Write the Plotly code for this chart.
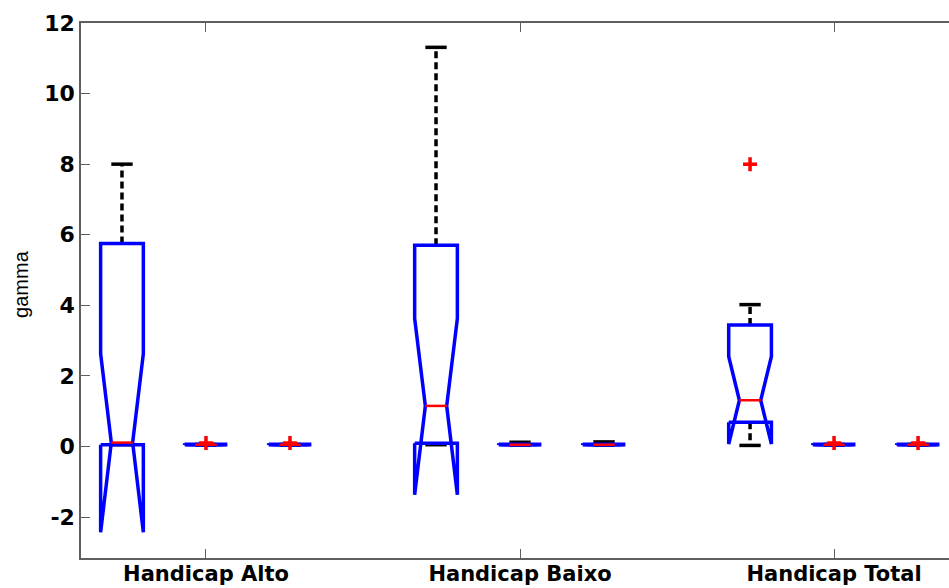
import plotly.graph_objects as go

# Group labels shown on the x axis
groups = ["Handicap Alto", "Handicap Baixo", "Handicap Total"]

# Box statistics for the nine boxes (three per group, left to right)
lower_whisker = [0.05, 0.04, 0.04, 0.05, 0.04, 0.04, 0.03, 0.04, 0.04]
q1 = [0.05, 0.04, 0.04, 0.09, 0.04, 0.04, 0.69, 0.04, 0.04]
median = [0.11, 0.05, 0.05, 1.15, 0.05, 0.05, 1.31, 0.05, 0.05]
q3 = [5.75, 0.06, 0.06, 5.70, 0.06, 0.06, 3.44, 0.06, 0.06]
upper_whisker = [8.00, 0.06, 0.06, 11.31, 0.12, 0.13, 4.02, 0.06, 0.06]
notch_lo = [-2.43, 0.045, 0.045, -1.37, 0.045, 0.045, 0.07, 0.045, 0.045]
notch_hi = [2.63, 0.055, 0.055, 3.63, 0.055, 0.055, 2.55, 0.055, 0.055]
outliers = [[], [0.10], [0.10], [], [], [], [8.00], [0.10], [0.10]]

# y tick values and their labels (plain hyphen for negatives)
y_ticks = [-2, 0, 2, 4, 6, 8, 10, 12]
y_tick_text = ["-2", "0", "2", "4", "6", "8", "10", "12"]

# Placement of the boxes around each group tick
offsets = (-0.2675, 0.0, 0.2675)
positions = [g + o for g in range(1, len(groups) + 1) for o in offsets]
half_w = 0.068

whisker_x, whisker_y = [], []
cap_x, cap_y = [], []
box_x, box_y = [], []
med_x, med_y = [], []
out_x, out_y = [], []

for i, p in enumerate(positions):
    L, R = p - half_w, p + half_w
    iL, iR = p - half_w / 2, p + half_w / 2
    whisker_x += [p, p, None, p, p, None]
    whisker_y += [q3[i], upper_whisker[i], None, q1[i], lower_whisker[i], None]
    cap_x += [iL, iR, None, iL, iR, None]
    cap_y += [upper_whisker[i], upper_whisker[i], None,
              lower_whisker[i], lower_whisker[i], None]
    # notched outline: the notch may reach past the box edges
    box_x += [L, L, iL, L, L, R, R, iR, R, R, L, None]
    box_y += [q1[i], notch_lo[i], median[i], notch_hi[i], q3[i],
              q3[i], notch_hi[i], median[i], notch_lo[i], q1[i], q1[i], None]
    med_x += [iL, iR, None]
    med_y += [median[i], median[i], None]
    for v in outliers[i]:
        out_x.append(p)
        out_y.append(v)

fig = go.Figure()
fig.add_trace(go.Scatter(x=whisker_x, y=whisker_y, mode="lines",
                         line=dict(color="black", width=3.5, dash="7px,4px"),
                         hoverinfo="skip"))
fig.add_trace(go.Scatter(x=cap_x, y=cap_y, mode="lines",
                         line=dict(color="black", width=3.5), hoverinfo="skip"))
fig.add_trace(go.Scatter(x=box_x, y=box_y, mode="lines",
                         line=dict(color="#0000FF", width=3.5), hoverinfo="skip"))
fig.add_trace(go.Scatter(x=med_x, y=med_y, mode="lines",
                         line=dict(color="#FF0000", width=2.5), hoverinfo="skip"))
fig.add_trace(go.Scatter(x=out_x, y=out_y, mode="markers",
                         marker=dict(symbol="cross-thin", size=10,
                                     line=dict(color="#FF0000", width=3.5)),
                         hoverinfo="skip"))

axis_color = "#5f5f5f"
y_tick_font = dict(family="DejaVu Sans", size=22, color="black", weight="bold")
x_tick_font = dict(family="DejaVu Sans", size=21, color="black", weight="bold")

fig.update_layout(
    width=949, height=588,
    margin=dict(l=81, r=0, t=23, b=30, autoexpand=False),
    paper_bgcolor="white", plot_bgcolor="white",
    showlegend=False,
    xaxis=dict(range=[0.602, 3.366], tickvals=[1, 2, 3], ticktext=groups,
               ticks="inside", ticklen=9, tickcolor=axis_color, tickwidth=1,
               showline=True, linecolor=axis_color, linewidth=1.5,
               mirror="ticks", showgrid=False, zeroline=False,
               automargin=False, ticklabelstandoff=-4, tickfont=x_tick_font),
    yaxis=dict(range=[-3.16, 12], tickvals=y_ticks, ticktext=y_tick_text,
               ticks="inside", ticklen=9, tickcolor=axis_color, tickwidth=1,
               showline=True, linecolor=axis_color, linewidth=1.5,
               showgrid=False, zeroline=False, automargin=False,
               tickfont=y_tick_font),
    annotations=[dict(text="gamma", xref="paper", yref="y", x=-0.069, y=4.61,
                      xanchor="center", yanchor="middle", textangle=-90,
                      showarrow=False,
                      font=dict(family="Liberation Sans", size=20, color="black"))],
)

fig.write_html("out.html")
